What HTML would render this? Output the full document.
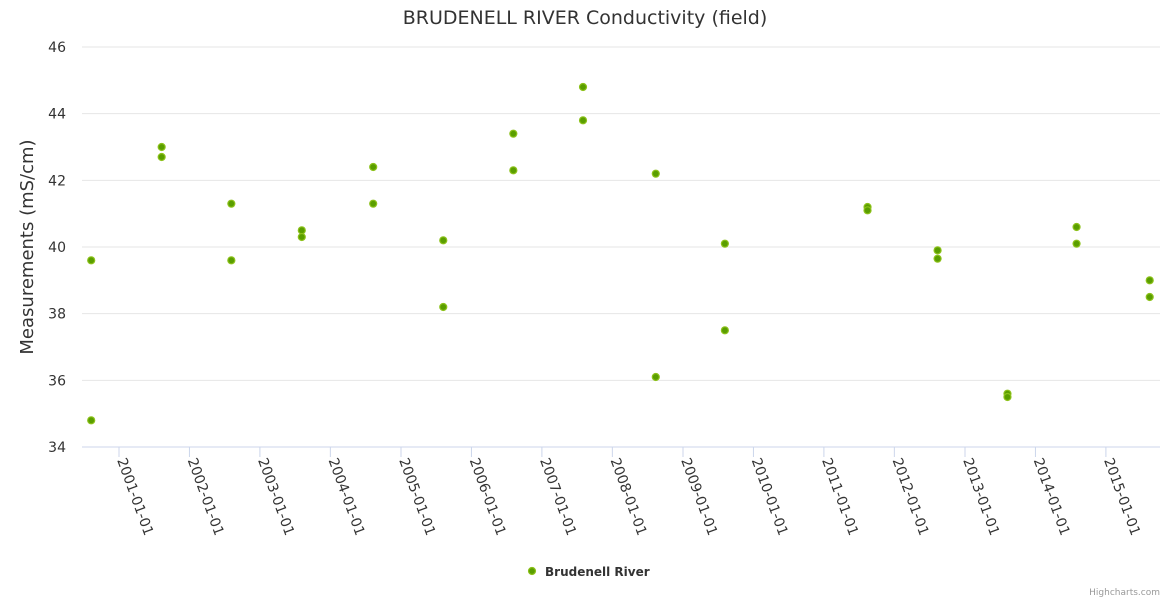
<!DOCTYPE html>
<html><head><meta charset="utf-8"><style>
body{margin:0;background:#fff;font-family:"Liberation Sans","DejaVu Sans",sans-serif}
svg text{font-family:"DejaVu Sans","Liberation Sans",sans-serif}
</style></head><body>
<svg id="chart" width="1170" height="600" xmlns="http://www.w3.org/2000/svg">
<text x="585" y="24" text-anchor="middle" font-size="19" fill="#333">BRUDENELL RIVER Conductivity (field)</text>
<text transform="translate(33,247) rotate(-90)" text-anchor="middle" font-size="18" fill="#333">Measurements (mS/cm)</text>
<g id="grid"></g><g id="xaxis"></g><g id="pts"></g>
<g>
<circle cx="532" cy="571" r="3.5" fill="#5a9e00" stroke="#8cc11a" stroke-width="1.2"/>
<text x="545" y="576" font-size="12" font-weight="bold" fill="#333">Brudenell River</text></g>
<text x="1160" y="595" text-anchor="end" font-size="9" fill="#999">Highcharts.com</text>
</svg>
<script>
const dates=["2000-08-10","2000-08-10","2001-08-10","2001-08-10","2002-08-06","2002-08-06","2003-08-06","2003-08-06","2004-08-10","2004-08-10","2005-08-08","2005-08-08","2006-08-06","2006-08-06","2007-08-02","2007-08-02","2008-08-13","2008-08-13","2009-08-06","2009-08-06","2011-08-15","2011-08-15","2012-08-12","2012-08-12","2013-08-09","2013-08-09","2014-08-02","2014-08-02","2015-08-16","2015-08-16"];
const values=[39.6,34.8,43.0,42.7,41.3,39.6,40.5,40.3,42.4,41.3,40.2,38.2,43.4,42.3,44.8,43.8,42.2,36.1,40.1,37.5,41.2,41.1,39.9,39.65,35.6,35.5,40.6,40.1,39.0,38.5];
const yTicks=[34,36,38,40,42,44,46];
const xTicks=["2001-01-01","2002-01-01","2003-01-01","2004-01-01","2005-01-01","2006-01-01","2007-01-01","2008-01-01","2009-01-01","2010-01-01","2011-01-01","2012-01-01","2013-01-01","2014-01-01","2015-01-01"];
const NS="http://www.w3.org/2000/svg";
const t0=Date.parse("2001-01-01"),yr=365.25*864e5;
function X(d){return 119+(Date.parse(d)-t0)/yr*70.5;}
function Y(v){return 447-(v-34)/12*400;}
function mk(tag,a,p){const e=document.createElementNS(NS,tag);for(const k in a)e.setAttribute(k,a[k]);p.appendChild(e);return e;}
const g=document.getElementById('grid');
yTicks.forEach(v=>{
 const l=mk('line',{x1:82,x2:1160,y1:Y(v),y2:Y(v),stroke:v===34?'#ccd6eb':'#e6e6e6','stroke-width':1},g);
 
 
 const t=mk('text',{x:66,y:Y(v)+5,'text-anchor':'end','font-size':14,fill:'#333'},g);t.textContent=v;
 
 
});
const xa=document.getElementById('xaxis');
xTicks.forEach(d=>{
 const x=X(d);
 const l=mk('line',{x1:x,x2:x,y1:447,y2:457,stroke:'#ccd6eb'},xa);
 
 
 const t=mk('text',{transform:`translate(${x-2},460) rotate(70)`,'font-size':14,fill:'#333'},xa);t.textContent=d;
 
 
});
const p=document.getElementById('pts');
dates.forEach((d,i)=>{
 const c=mk('circle',{cx:X(d),cy:Y(values[i]),r:3.5,fill:'#5a9e00',stroke:'#8cc11a','stroke-width':1.2},p);
 
 
});
</script>
</body></html>
